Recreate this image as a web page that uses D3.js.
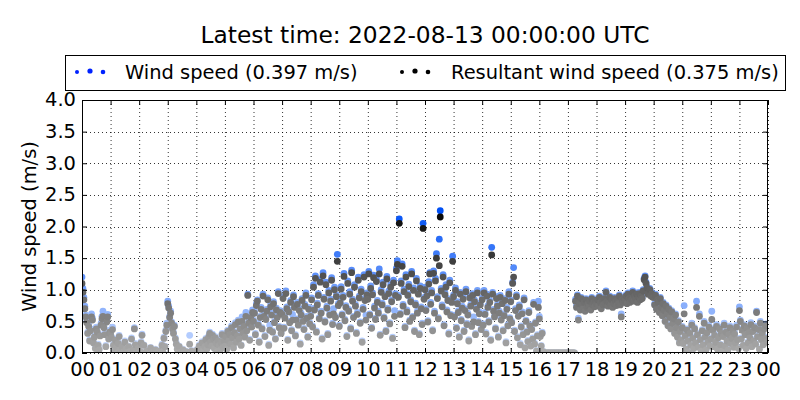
<!DOCTYPE html>
<html><head><meta charset="utf-8">
<script src="https://cdn.jsdelivr.net/npm/d3@7"></script>
<style>body{margin:0;background:#fff} svg{font-family:"DejaVu Sans",sans-serif}</style>
</head><body><svg id="c" width="800" height="400"></svg>
<script>
const title = "Latest time: 2022-08-13 00:00:00 UTC";
const seriesNames = ["Wind speed (0.397 m/s)", "Resultant wind speed (0.375 m/s)"];
const yTicks = [0.0,0.5,1.0,1.5,2.0,2.5,3.0,3.5,4.0];
const xTickLabels = ["00","01","02","03","04","05","06","07","08","09","10","11","12","13","14","15","16","17","18","19","20","21","22","23","00"];
const sampleStepMinutes = 2;
// one row per hour, samples every 2 minutes
const windSpeed = [
1.20,1.02,0.88,0.74,0.60,0.52,0.33,0.45,0.21,0.38,0.62,0.55,0.18,0.27,0.09,0.41,0.35,0.14,0.06,0.29,0.47,0.58,0.66,0.43,0.31,0.12,0.52,0.61,0.24,0.36,
0.32,0.26,0.41,0.14,0.03,0.22,0.09,0.00,0.17,0.28,0.05,0.00,0.12,0.02,0.00,0.19,0.07,0.00,0.00,0.11,0.03,0.00,0.24,0.00,0.06,0.40,0.15,0.00,0.02,0.09,
0.00,0.03,0.18,0.30,0.00,0.13,0.00,0.00,0.04,0.00,0.02,0.00,0.09,0.00,0.00,0.01,0.00,0.06,0.00,0.00,0.00,0.04,0.00,0.00,0.14,0.02,0.25,0.11,0.36,0.47,
0.82,0.74,0.58,0.66,0.49,0.40,0.33,0.44,0.24,0.16,0.07,0.00,0.11,0.02,0.00,0.00,0.06,0.00,0.00,0.03,0.00,0.00,0.01,0.28,0.00,0.04,0.00,0.00,0.02,0.00,
0.00,0.06,0.02,0.13,0.00,0.09,0.18,0.04,0.00,0.11,0.23,0.07,0.15,0.27,0.33,0.19,0.12,0.30,0.24,0.08,0.26,0.17,0.03,0.21,0.14,0.05,0.18,0.31,0.10,0.22,
0.12,0.28,0.07,0.36,0.21,0.31,0.15,0.43,0.26,0.09,0.34,0.48,0.19,0.29,0.52,0.24,0.40,0.13,0.57,0.33,0.45,0.27,0.64,0.37,0.93,0.50,0.22,0.60,0.44,0.68,
0.52,0.66,0.31,0.78,0.84,0.47,0.19,0.58,0.72,0.40,0.93,0.61,0.28,0.55,0.69,0.87,0.14,0.44,0.76,0.63,0.35,0.81,0.50,0.24,0.71,0.59,0.97,0.42,0.67,0.33,
0.64,0.89,0.41,0.57,0.98,0.73,0.22,0.68,0.50,0.83,0.37,0.61,0.92,0.75,0.29,0.54,0.80,0.46,0.70,0.16,0.63,0.86,0.52,0.39,0.77,0.95,0.58,0.27,0.72,0.48,
0.60,0.87,0.43,1.08,0.71,1.22,0.35,0.79,0.94,0.56,1.16,0.66,0.24,1.27,0.88,0.51,1.12,0.74,0.31,0.99,0.63,0.85,1.19,0.47,0.70,1.04,0.58,0.92,1.56,0.78,
0.44,0.82,1.05,0.62,0.91,1.26,0.53,0.75,0.28,1.14,0.69,0.97,0.40,1.31,0.85,0.58,1.08,0.77,0.33,0.64,1.20,0.90,0.49,1.01,0.19,0.72,1.24,0.86,0.60,0.95,
0.88,1.29,0.62,1.06,0.41,0.95,1.23,0.74,0.55,1.17,0.83,0.66,1.33,0.30,1.00,0.79,1.12,0.57,0.92,0.36,1.21,0.71,0.98,0.48,1.08,0.84,0.25,1.15,0.67,0.94,
1.34,1.46,0.91,2.12,0.63,1.14,1.41,0.77,1.01,0.42,1.24,0.68,0.94,1.09,0.52,0.84,1.29,0.58,1.03,0.36,0.79,1.18,0.66,0.96,0.31,1.06,0.73,0.47,2.05,0.88,
1.04,0.70,0.93,0.51,1.13,1.27,0.80,0.99,0.37,1.30,0.66,1.18,1.57,0.89,0.56,1.80,2.25,1.02,0.76,1.24,0.45,0.95,1.08,0.68,0.86,0.32,1.15,0.61,0.83,1.53,
0.92,0.60,1.03,0.41,0.81,0.67,0.27,0.96,0.53,0.74,0.88,0.36,0.70,1.01,0.47,0.63,0.21,0.90,0.77,0.44,0.94,0.57,0.84,0.31,0.72,0.99,0.50,0.65,0.79,0.39,
0.87,0.46,0.99,0.64,0.32,0.93,0.75,0.51,0.83,0.22,1.67,0.96,0.69,0.59,0.40,0.89,0.77,0.27,0.66,0.91,0.54,0.81,0.37,0.62,0.86,0.18,0.72,0.45,0.97,0.56,
0.84,0.50,1.12,1.35,0.36,0.70,0.92,0.26,0.60,0.76,0.15,0.43,0.65,0.31,0.87,0.09,0.52,0.35,0.20,0.67,0.45,0.12,0.39,0.24,0.80,0.16,0.49,0.04,0.29,0.82,
0.58,0.28,0.12,0.33,0.03,0.00,0.00,0.00,0.00,0.00,0.00,0.00,0.00,0.00,0.00,0.00,0.00,0.00,0.00,0.00,0.00,0.00,0.00,0.00,0.00,0.00,0.00,0.00,0.00,0.00,
0.00,0.00,0.00,0.00,0.00,0.00,0.00,0.00,0.85,0.75,0.92,0.55,0.80,0.70,0.88,0.78,0.72,0.82,0.68,0.86,0.74,0.80,0.76,0.84,0.70,0.88,0.78,0.82,0.75,0.85,
0.80,0.86,0.76,0.90,0.82,0.72,0.85,0.78,0.88,0.80,0.98,0.84,0.76,0.82,0.90,0.78,0.86,0.74,0.80,0.88,0.83,0.77,0.85,0.80,0.92,0.78,0.62,0.86,0.82,0.88,
0.85,0.92,0.80,0.95,0.88,0.82,0.90,0.86,0.98,0.84,0.92,0.88,0.95,0.82,0.90,0.96,0.86,0.92,0.88,1.00,1.18,1.22,1.12,1.05,0.95,0.98,1.02,0.92,0.96,0.90,
0.90,0.78,0.93,0.71,0.86,0.82,0.66,0.88,0.74,0.61,0.80,0.69,0.52,0.76,0.63,0.45,0.71,0.58,0.40,0.67,0.49,0.56,0.33,0.62,0.42,0.27,0.51,0.18,0.36,0.22,
0.42,0.16,0.75,0.29,0.07,0.38,0.21,0.02,0.33,0.13,0.47,0.25,0.08,0.40,0.18,0.82,0.31,0.10,0.62,0.23,0.04,0.37,0.15,0.50,0.27,0.06,0.34,0.19,0.44,0.12,
0.24,0.66,0.38,0.11,0.30,0.19,0.45,0.07,0.26,0.41,0.14,0.33,0.04,0.28,0.47,0.12,0.35,0.21,0.06,0.31,0.43,0.16,0.25,0.37,0.10,0.32,0.18,0.44,0.23,0.08,
0.73,0.52,0.24,0.38,0.13,0.45,0.31,0.08,0.41,0.18,0.34,0.26,0.48,0.11,0.36,0.21,0.43,0.15,0.66,0.28,0.39,0.07,0.50,0.23,0.33,0.14,0.40,0.25,0.46,0.19
];
const resultantSpeed = [
1.10,0.96,0.84,0.70,0.57,0.48,0.31,0.42,0.19,0.35,0.57,0.52,0.16,0.25,0.07,0.38,0.33,0.12,0.05,0.27,0.44,0.54,0.58,0.40,0.29,0.10,0.49,0.57,0.22,0.33,
0.30,0.24,0.37,0.12,0.02,0.20,0.08,0.00,0.15,0.26,0.04,0.00,0.10,0.01,0.00,0.17,0.06,0.00,0.00,0.10,0.02,0.00,0.22,0.00,0.05,0.38,0.13,0.00,0.01,0.08,
0.00,0.02,0.16,0.28,0.00,0.12,0.00,0.00,0.03,0.00,0.01,0.00,0.08,0.00,0.00,0.01,0.00,0.05,0.00,0.00,0.00,0.03,0.00,0.00,0.12,0.01,0.23,0.10,0.34,0.44,
0.78,0.71,0.56,0.63,0.47,0.38,0.31,0.42,0.22,0.14,0.06,0.00,0.10,0.01,0.00,0.00,0.05,0.00,0.00,0.02,0.00,0.00,0.01,0.14,0.00,0.03,0.00,0.00,0.01,0.00,
0.00,0.05,0.01,0.11,0.00,0.08,0.16,0.03,0.00,0.10,0.21,0.06,0.13,0.25,0.31,0.17,0.11,0.28,0.22,0.07,0.24,0.15,0.02,0.19,0.12,0.04,0.16,0.29,0.09,0.20,
0.11,0.26,0.06,0.34,0.19,0.29,0.14,0.40,0.24,0.08,0.32,0.45,0.17,0.27,0.49,0.22,0.38,0.12,0.50,0.31,0.42,0.25,0.58,0.35,0.91,0.47,0.20,0.56,0.41,0.64,
0.50,0.63,0.29,0.75,0.82,0.44,0.17,0.56,0.69,0.38,0.90,0.58,0.26,0.53,0.66,0.84,0.12,0.36,0.73,0.60,0.33,0.78,0.48,0.22,0.68,0.56,0.94,0.40,0.64,0.31,
0.61,0.86,0.39,0.55,0.94,0.70,0.20,0.65,0.48,0.80,0.35,0.52,0.89,0.72,0.27,0.52,0.77,0.44,0.67,0.14,0.60,0.83,0.50,0.37,0.74,0.91,0.55,0.25,0.69,0.46,
0.58,0.84,0.41,1.04,0.68,1.18,0.33,0.76,0.91,0.54,1.12,0.63,0.22,1.22,0.85,0.49,1.08,0.71,0.29,0.95,0.60,0.82,1.15,0.45,0.62,1.00,0.56,0.89,1.45,0.75,
0.42,0.79,1.01,0.60,0.88,1.21,0.51,0.72,0.26,1.10,0.66,0.93,0.38,1.27,0.82,0.56,1.04,0.74,0.31,0.61,1.15,0.87,0.47,0.97,0.17,0.69,1.20,0.83,0.52,0.92,
0.85,1.25,0.60,1.02,0.39,0.92,1.19,0.71,0.53,1.13,0.80,0.63,1.25,0.28,0.96,0.76,1.08,0.55,0.89,0.34,1.17,0.68,0.94,0.46,1.04,0.81,0.23,1.11,0.58,0.91,
1.30,1.40,0.88,2.05,0.61,1.10,1.37,0.74,0.97,0.40,1.20,0.65,0.91,1.05,0.50,0.81,1.25,0.56,0.99,0.34,0.76,1.14,0.63,0.93,0.29,1.02,0.70,0.45,1.97,0.85,
1.00,0.67,0.90,0.49,1.09,1.25,0.77,0.95,0.35,1.26,0.63,1.14,1.50,0.86,0.54,1.38,2.15,0.98,0.73,1.20,0.43,0.92,1.04,0.65,0.83,0.30,1.11,0.59,0.80,1.45,
0.89,0.57,0.99,0.39,0.78,0.64,0.25,0.93,0.51,0.71,0.85,0.34,0.67,0.97,0.45,0.60,0.19,0.87,0.74,0.42,0.91,0.49,0.81,0.29,0.69,0.95,0.48,0.62,0.76,0.37,
0.84,0.44,0.95,0.61,0.30,0.90,0.72,0.49,0.80,0.20,1.55,0.93,0.66,0.57,0.38,0.86,0.74,0.25,0.63,0.88,0.52,0.78,0.35,0.59,0.83,0.16,0.69,0.43,0.93,0.54,
0.81,0.48,1.10,1.20,0.34,0.67,0.89,0.24,0.58,0.73,0.13,0.41,0.62,0.29,0.84,0.08,0.50,0.33,0.18,0.64,0.43,0.11,0.37,0.22,0.77,0.14,0.47,0.03,0.27,0.72,
0.54,0.26,0.11,0.31,0.02,0.00,0.00,0.00,0.00,0.00,0.00,0.00,0.00,0.00,0.00,0.00,0.00,0.00,0.00,0.00,0.00,0.00,0.00,0.00,0.00,0.00,0.00,0.00,0.00,0.00,
0.00,0.00,0.00,0.00,0.00,0.00,0.00,0.00,0.82,0.72,0.90,0.52,0.78,0.68,0.86,0.76,0.70,0.80,0.66,0.84,0.72,0.78,0.74,0.82,0.68,0.86,0.76,0.80,0.73,0.83,
0.78,0.84,0.74,0.88,0.80,0.70,0.83,0.76,0.86,0.78,0.96,0.82,0.74,0.80,0.88,0.76,0.84,0.72,0.78,0.86,0.81,0.75,0.83,0.78,0.90,0.76,0.57,0.84,0.80,0.86,
0.83,0.90,0.78,0.93,0.86,0.80,0.88,0.84,0.96,0.82,0.90,0.86,0.93,0.80,0.88,0.94,0.84,0.90,0.86,0.98,1.16,1.20,1.10,1.03,0.93,0.96,1.00,0.90,0.94,0.88,
0.88,0.76,0.91,0.69,0.84,0.80,0.64,0.86,0.72,0.59,0.78,0.67,0.50,0.74,0.61,0.43,0.69,0.56,0.38,0.65,0.47,0.54,0.31,0.60,0.40,0.25,0.49,0.16,0.34,0.20,
0.40,0.15,0.62,0.27,0.06,0.36,0.19,0.01,0.31,0.12,0.44,0.23,0.07,0.38,0.16,0.72,0.29,0.09,0.58,0.21,0.03,0.35,0.13,0.47,0.25,0.05,0.32,0.17,0.41,0.11,
0.22,0.53,0.36,0.10,0.28,0.17,0.42,0.06,0.24,0.38,0.13,0.31,0.03,0.26,0.44,0.11,0.33,0.19,0.05,0.29,0.40,0.15,0.23,0.35,0.09,0.30,0.16,0.41,0.21,0.07,
0.67,0.50,0.22,0.36,0.12,0.43,0.29,0.07,0.39,0.16,0.32,0.24,0.45,0.10,0.34,0.19,0.40,0.14,0.64,0.26,0.37,0.06,0.47,0.21,0.31,0.13,0.38,0.23,0.43,0.17
];

const svg = d3.select("#c");
const m = {l:82, r:768, t:100, b:353};
const x = d3.scaleLinear().domain([0, 1440]).range([m.l, m.r]);
const y = d3.scaleLinear().domain([0, 4]).range([m.b, m.t]);
const FS = 19.44;

svg.append("defs").append("clipPath").attr("id","clip")
  .append("rect").attr("x",m.l).attr("y",m.t).attr("width",m.r-m.l).attr("height",m.b-m.t);

const xTickVals = xTickLabels.map((d,i)=>i*60);

// grid
const grid = svg.append("g").attr("stroke","#000").attr("stroke-width",0.8).attr("stroke-dasharray","1,3");
grid.selectAll(".gx").data(xTickVals).join("line")
  .attr("x1",d=>x(d)+0.5).attr("x2",d=>x(d)+0.5).attr("y1",m.t).attr("y2",m.b);
grid.selectAll(".gy").data(yTicks).join("line")
  .attr("y1",d=>Math.round(y(d))+0.5).attr("y2",d=>Math.round(y(d))+0.5).attr("x1",m.l).attr("x2",m.r);

const grayCol = v => { const l = Math.max(0, Math.round(172 - 75*v)); return `rgb(${l},${l},${l})`; };
const blueInterp = d3.interpolateRgb("rgb(205,222,255)", "rgb(0,80,245)");
const blueCol = v => blueInterp(Math.min(1, v/2.25));

const pts = svg.append("g").attr("clip-path","url(#clip)");
const R = 3.4;
pts.append("g").selectAll("circle").data(windSpeed).join("circle")
  .attr("cx",(d,i)=>x(i*sampleStepMinutes)).attr("cy",d=>y(d)).attr("r",R).attr("fill",d=>blueCol(d));
pts.append("g").selectAll("circle").data(resultantSpeed).join("circle")
  .attr("cx",(d,i)=>x(i*sampleStepMinutes)).attr("cy",d=>y(d)).attr("r",R).attr("fill",d=>grayCol(d));

// axes via d3
const xAxis = d3.axisBottom(x).tickValues(xTickVals).tickFormat((d,i)=>xTickLabels[i]).tickSizeInner(-5).tickSizeOuter(0);
const gx = svg.append("g").attr("transform",`translate(0,${m.b})`).call(xAxis);
gx.select(".domain").remove();
gx.selectAll("text").attr("font-size",FS).attr("font-family","DejaVu Sans").attr("fill","#000").attr("dy","0.71em").attr("y",9);
gx.selectAll("line").attr("stroke","#000");
const xAxisTop = d3.axisTop(x).tickValues(xTickVals).tickFormat("").tickSizeInner(-5).tickSizeOuter(0);
const gxt = svg.append("g").attr("transform",`translate(0,${m.t})`).call(xAxisTop);
gxt.select(".domain").remove();

const yAxis = d3.axisLeft(y).tickValues(yTicks).tickFormat(d3.format(".1f")).tickSizeInner(-5).tickSizeOuter(0);
const gy = svg.append("g").attr("transform",`translate(${m.l},0)`).call(yAxis);
gy.select(".domain").remove();
gy.selectAll("text").attr("font-size",FS).attr("font-family","DejaVu Sans").attr("fill","#000").attr("x",-6).attr("dy","0.3em");
const yAxisR = d3.axisRight(y).tickValues(yTicks).tickFormat("").tickSizeInner(-5).tickSizeOuter(0);
const gyr = svg.append("g").attr("transform",`translate(${m.r},0)`).call(yAxisR);
gyr.select(".domain").remove();

// frame
svg.append("rect").attr("x",m.l+0.5).attr("y",m.t+0.5).attr("width",m.r-m.l-1).attr("height",m.b-m.t-1)
  .attr("fill","none").attr("stroke","#000").attr("stroke-width",1);

// labels
svg.append("text").attr("x",(m.l+m.r)/2).attr("y",43).attr("text-anchor","middle")
  .attr("font-size",23.33).text(title);
svg.append("text").attr("transform",`translate(36,${(m.t+m.b)/2}) rotate(-90)`).attr("text-anchor","middle")
  .attr("font-size",FS).text("Wind speed (m/s)");

// legend
const lg = svg.append("g");
lg.append("rect").attr("x",65.5).attr("y",55.5).attr("width",720).attr("height",35).attr("fill","#fff").attr("stroke","#000");
const legendItems = [
  {name: seriesNames[0], color: "#0022ff", x0: 77, tx: 125},
  {name: seriesNames[1], color: "#000000", x0: 402, tx: 451}
];
const legendSizes = [2.0, 2.6, 2.3];
legendItems.forEach(it=>{
  lg.selectAll(null).data(legendSizes).join("circle")
    .attr("cx",(d,i)=>it.x0+i*13).attr("cy",(d,i)=>72 - (i===1?1:0)).attr("r",d=>d).attr("fill",it.color);
  lg.append("text").attr("x",it.tx).attr("y",79).attr("font-size",FS).text(it.name);
});
</script></body></html>
